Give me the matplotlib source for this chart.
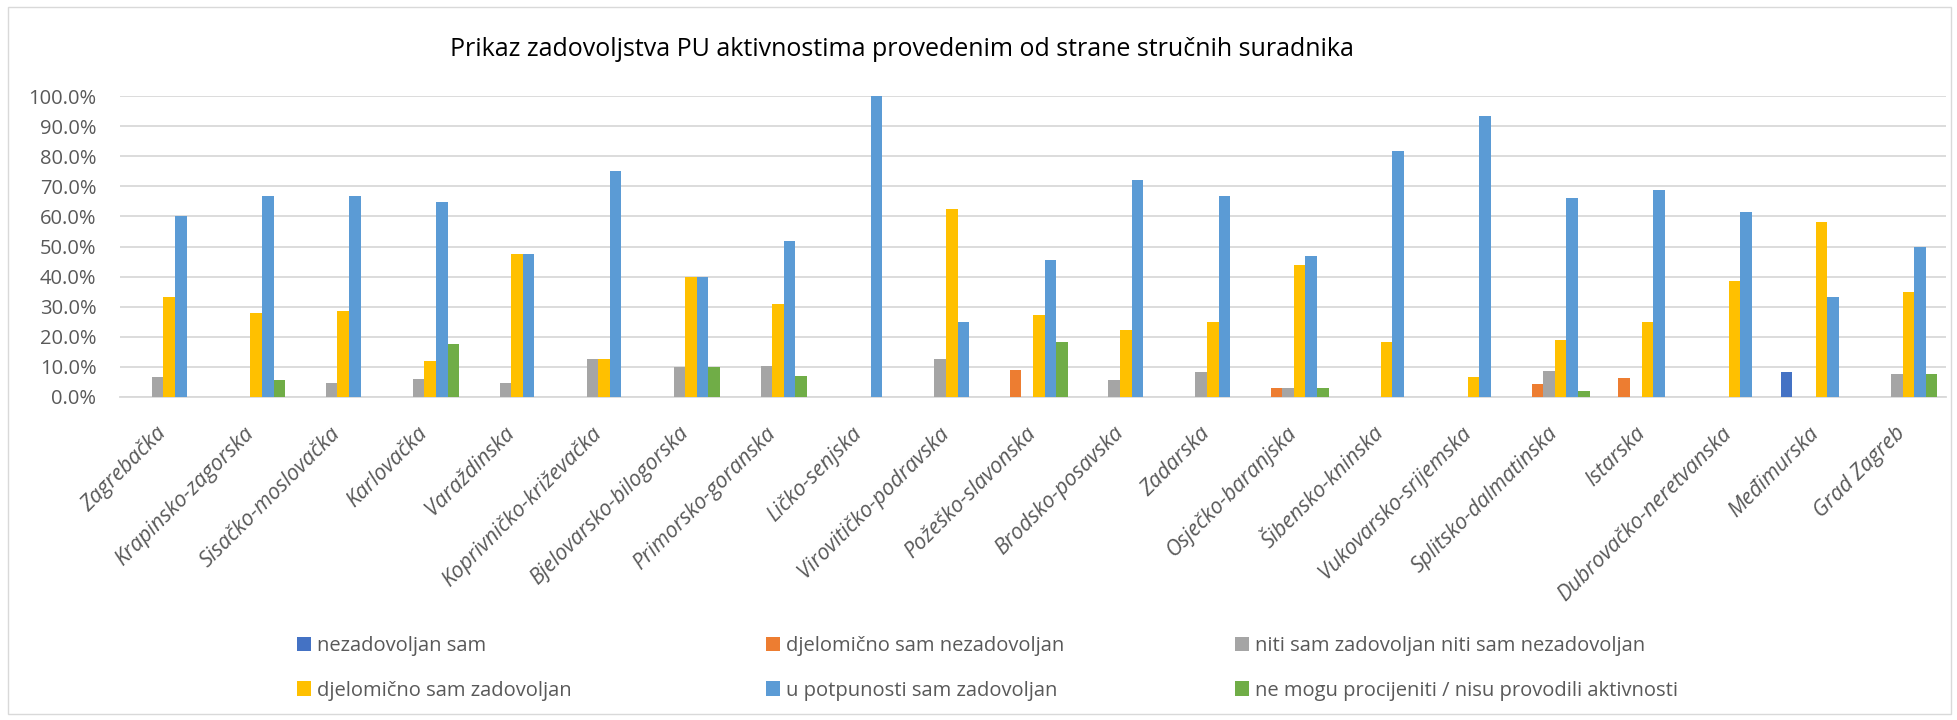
import numpy as np
import matplotlib
matplotlib.use('Agg')
import matplotlib.pyplot as plt
import matplotlib.patches as patches
from matplotlib.ticker import FuncFormatter

plt.rcParams['font.family'] = ['Open Sans', 'DejaVu Sans']

categories = ['Zagrebačka', 'Krapinsko-zagorska', 'Sisačko-moslovačka', 'Karlovačka',
              'Varaždinska', 'Koprivničko-križevačka', 'Bjelovarsko-bilogorska',
              'Primorsko-goranska', 'Ličko-senjska', 'Virovitičko-podravska',
              'Požeško-slavonska', 'Brodsko-posavska', 'Zadarska', 'Osječko-baranjska',
              'Šibensko-kninska', 'Vukovarsko-srijemska', 'Splitsko-dalmatinska',
              'Istarska', 'Dubrovačko-neretvanska', 'Međimurska', 'Grad Zagreb']

nezadovoljan = [0, 0, 0, 0, 0, 0, 0, 0, 0, 0, 0, 0, 0, 0, 0, 0, 0, 0, 0, 8.3, 0]
djelom_nezad = [0, 0, 0, 0, 0, 0, 0, 0, 0, 0, 9.1, 0, 0, 3.1, 0, 0, 4.3, 6.3, 0, 0, 0]
niti_niti = [6.7, 0, 4.8, 5.9, 4.8, 12.5, 10.0, 10.3, 0, 12.5, 0, 5.6, 8.3, 3.1, 0, 0, 8.5, 0, 0, 0, 7.5]
djelom_zad = [33.3, 27.8, 28.6, 11.8, 47.6, 12.5, 40.0, 31.0, 0, 62.5, 27.3, 22.2, 25.0, 43.8,
              18.2, 6.7, 19.1, 25.0, 38.5, 58.3, 35.0]
potpuno = [60.0, 66.7, 66.7, 64.7, 47.6, 75.0, 40.0, 51.7, 100.0, 25.0, 45.5, 72.2, 66.7, 46.9,
           81.8, 93.3, 66.0, 68.8, 61.5, 33.3, 50.0]
ne_mogu = [0, 5.6, 0, 17.6, 0, 0, 10.0, 6.9, 0, 0, 18.2, 0, 0, 3.1, 0, 0, 2.1, 0, 0, 0, 7.5]

series_names = ['nezadovoljan sam', 'djelomično sam nezadovoljan',
                'niti sam zadovoljan niti sam nezadovoljan', 'djelomično sam zadovoljan',
                'u potpunosti sam zadovoljan', 'ne mogu procijeniti / nisu provodili aktivnosti']
series = [nezadovoljan, djelom_nezad, niti_niti, djelom_zad, potpuno, ne_mogu]
colors = ['#4472C4', '#ED7D31', '#A5A5A5', '#FFC000', '#5B9BD5', '#70AD47']

W, H = 1957, 720
fig = plt.figure(figsize=(W / 100, H / 100), dpi=100)

# outer chart border
fig.patches.append(patches.Rectangle((8 / W, 1 - 714 / H), (1951 - 8) / W, (714 - 7) / H,
                                     transform=fig.transFigure, fill=False,
                                     edgecolor='#D9D9D9', linewidth=1.0))

ax = fig.add_axes([120 / W, 1 - 397 / H, (1946 - 120) / W, (397 - 96) / H])

x = np.arange(len(categories))
bw = 0.1334
handles = []
for k, (vals, col, name) in enumerate(zip(series, colors, series_names)):
    b = ax.bar(x + (k - 2.5) * bw, vals, width=bw, color=col, label=name, linewidth=0, zorder=3)
    handles.append(b)

ax.set_xlim(-0.5, len(categories) - 0.5)
ax.set_ylim(0, 100)
ax.set_yticks(np.arange(0, 101, 10))
ax.yaxis.set_major_formatter(FuncFormatter(lambda v, p: f'{v:.1f}%'))
ax.grid(axis='y', color='#D9D9D9', linewidth=1.3, zorder=0)
ax.set_axisbelow(True)
for s in ['top', 'right', 'left']:
    ax.spines[s].set_visible(False)
ax.spines['bottom'].set_color('#D9D9D9')
ax.spines['bottom'].set_linewidth(1.3)
ax.tick_params(axis='both', length=0, colors='#595959')
ax.tick_params(axis='y', labelsize=14.5, pad=17)
ax.set_xticks(x)
ax.set_xticklabels(categories, rotation=45, ha='right', va='center',
                   rotation_mode='anchor', fontsize=15.5, style='italic', color='#595959')
ax.tick_params(axis='x', pad=24)

fig.text(902 / W, 1 - 56 / H, 'Prikaz zadovoljstva PU aktivnostima provedenim od strane stručnih suradnika',
         ha='center', va='baseline', fontsize=18, color='#000000')

# legend: three equal-width columns, two rows each
col_x = [297, 766, 1235]
for j in range(3):
    fig.legend(handles=[handles[j], handles[j + 3]], labels=[series_names[j], series_names[j + 3]],
               loc='center left', bbox_to_anchor=(col_x[j] / W, 1 - 668.5 / H),
               frameon=False, fontsize=14.5, labelcolor='#595959',
               handlelength=0.7, handleheight=0.7, handletextpad=0.3,
               labelspacing=1.2, borderpad=0, borderaxespad=0)

fig.savefig('out.png', dpi=100)
